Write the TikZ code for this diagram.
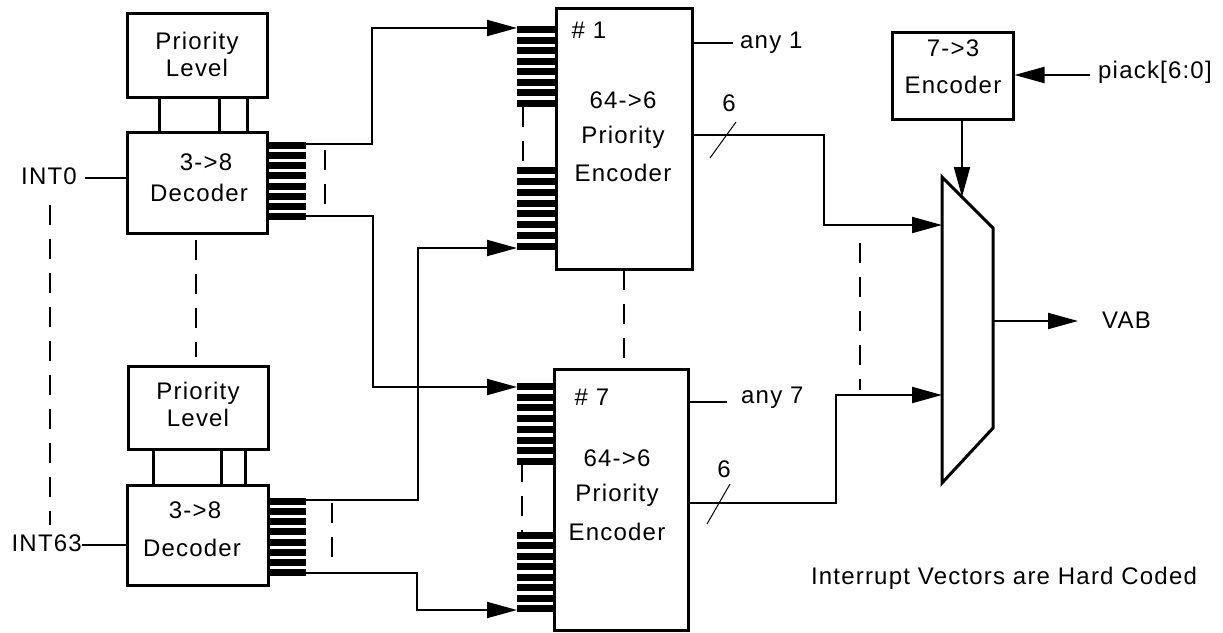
\documentclass[tikz,border=0pt]{standalone}
\usepackage{fontspec}
\setmainfont{Liberation Sans}[LetterSpace=5]
\usetikzlibrary{arrows.meta}
\begin{document}
\begin{tikzpicture}[x=1pt,y=-1pt,
  box/.style={draw,line width=3pt,inner sep=0pt},
  wire/.style={line width=2pt},
  thk/.style={line width=3pt},
  arr/.style={line width=2pt,-{Triangle[length=30pt,width=16pt]}},
  dsh/.style={line width=2pt,dash pattern=on 20pt off 14pt},
  lbl/.style={font=\fontsize{24}{27}\selectfont,inner sep=0pt,align=center},
  pin/.style={line width=7pt},
  slash/.style={line width=1pt}]
\useasboundingbox (0,0) rectangle (1223,632);

% boxes
\node[box,minimum width=140pt,minimum height=84pt] (pl1) at (197,55) {};
\node[box,minimum width=140pt,minimum height=101pt] (dec1) at (197,182.5) {};
\node[box,minimum width=140pt,minimum height=83pt] (pl2) at (198,407.5) {};
\node[box,minimum width=141pt,minimum height=100pt] (dec2) at (197.5,535) {};
\node[box,minimum width=136pt,minimum height=261pt] (enc1) at (624,138.5) {};
\node[box,minimum width=134pt,minimum height=261pt] (enc7) at (621,499.5) {};
\node[box,minimum width=121pt,minimum height=87pt] (enc73) at (952.5,75.5) {};
\draw[thk] (942,177) coordinate (muxtl) -- (993,228) -- (993,428) -- (942,483) -- cycle;
\coordinate (muxout) at (993,321);
\coordinate (muxsel) at (962,197);
\coordinate (muxin1) at (942,225);
\coordinate (muxin7) at (942,395);

% texts
\node[lbl] (tpl1) at (197,54) {Priority\\Level};
\node[lbl] (tpl2) at (198,404) {Priority\\Level};
\node[lbl] (td1a) at (206,162) {3->8};
\node[lbl] (td1b) at (199,193) {Decoder};
\node[lbl] (td2a) at (195,510) {3->8};
\node[lbl] (td2b) at (192,548) {Decoder};
\node[lbl] (te1n) at (589,30) {\# 1};
\node[lbl] (te1a) at (623,100) {64->6};
\node[lbl] (te1b) at (623,137) {Priority};
\node[lbl] (te1c) at (623,173) {Encoder};
\node[lbl] (te7n) at (592,397) {\# 7};
\node[lbl] (te7a) at (617,458) {64->6};
\node[lbl] (te7b) at (617,495) {Priority};
\node[lbl] (te7c) at (617,532) {Encoder};
\node[lbl] (t73a) at (953,48) {7->3};
\node[lbl] (t73b) at (953,85) {Encoder};
\node[lbl] (six1) at (729,103) {6};
\node[lbl] (six7) at (724,469) {6};
\node[lbl,anchor=west] (any1) at (740,43) {any 1};
\node[lbl,anchor=west] (any7) at (741,398) {any 7};
\node[lbl,anchor=west] (piack) at (1098,72) {piack[6:0]};
\node[lbl,anchor=west] (vab) at (1102,320) {VAB};
\node[lbl,anchor=east] (int0) at (77,176) {INT0};
\node[lbl,anchor=east] (int63) at (82,543) {INT63};
\node[lbl] (note) at (1004,578) {Interrupt Vectors are Hard Coded};

% pin combs
\foreach \i in {0,...,7} {
  \draw[pin] (267,145.5+\i*10.14) -- (306,145.5+\i*10.14);
  \draw[pin] (268,501.5+\i*10.14) -- (306,501.5+\i*10.14);
  \draw[pin] (517,29.5+\i*10.57) -- (556,29.5+\i*10.57);
  \draw[pin] (517,170.5+\i*10.86) -- (556,170.5+\i*10.86);
  \draw[pin] (517,386.5+\i*10.71) -- (554,386.5+\i*10.71);
  \draw[pin] (517,535.5+\i*10.43) -- (554,535.5+\i*10.43);
}
\coordinate (d1a) at (306,144);
\coordinate (d1b) at (306,216);
\coordinate (d2a) at (306,500);
\coordinate (d2b) at (306,573);
\coordinate (e1a) at (517,28);
\coordinate (e1b) at (517,248);
\coordinate (e7a) at (517,387);
\coordinate (e7b) at (517,610);

% priority level to decoder
\foreach \x in {159,219,247} \draw[thk] (\x,97) -- (\x,132);
\foreach \x in {153,221,245} \draw[thk] (\x,449) -- (\x,485);

% inputs
\coordinate (i0) at (85,178);
\coordinate (i63) at (82,545);
\draw[wire] (i0) -- (dec1.west |- i0);
\draw[wire] (i63) -- (dec2.west |- i63);

% decoder to encoder connectors
\draw[arr] (d1a) -- (372,144) |- (e1a);
\draw[arr] (d1b) -- (373,216) |- (e7a);
\draw[arr] (d2a) -- (418,500) |- (e1b);
\draw[arr] (d2b) -- (417,573) |- (e7b);

% encoder outputs
\coordinate (o1) at (692,135);
\coordinate (o7) at (688,503);
\draw[arr] (o1) -- (824,135) |- (muxin1);
\draw[arr] (o7) -- (836,503) |- (muxin7);
\draw[wire] (692,43) -- (733,43);
\draw[wire] (688,402) -- (727,402);
\draw[slash] (710,158) -- (736,122);
\draw[slash] (707,524) -- (730,484);

% select encoder
\draw[arr] (enc73.south -| muxsel) -- (muxsel);
\coordinate (pin) at (1090,75);
\draw[arr] (pin) -- (enc73.east |- pin);
\coordinate (vabend) at (1078,321);
\draw[arr] (muxout) -- (vabend);

% dashed continuation marks
\draw[dsh] (50,205) -- (50,525);
\draw[dsh] (196,240) -- (196,357);
\draw[dsh] (325,150) -- (325,215);
\draw[dsh] (332,503) -- (332,565);
\draw[dsh] (523,107) -- (523,167);
\draw[dsh] (522,462) -- (522,532);
\draw[dsh] (624,270) -- (624,368);
\draw[dsh] (860,243) -- (860,390);
\end{tikzpicture}
\end{document}
